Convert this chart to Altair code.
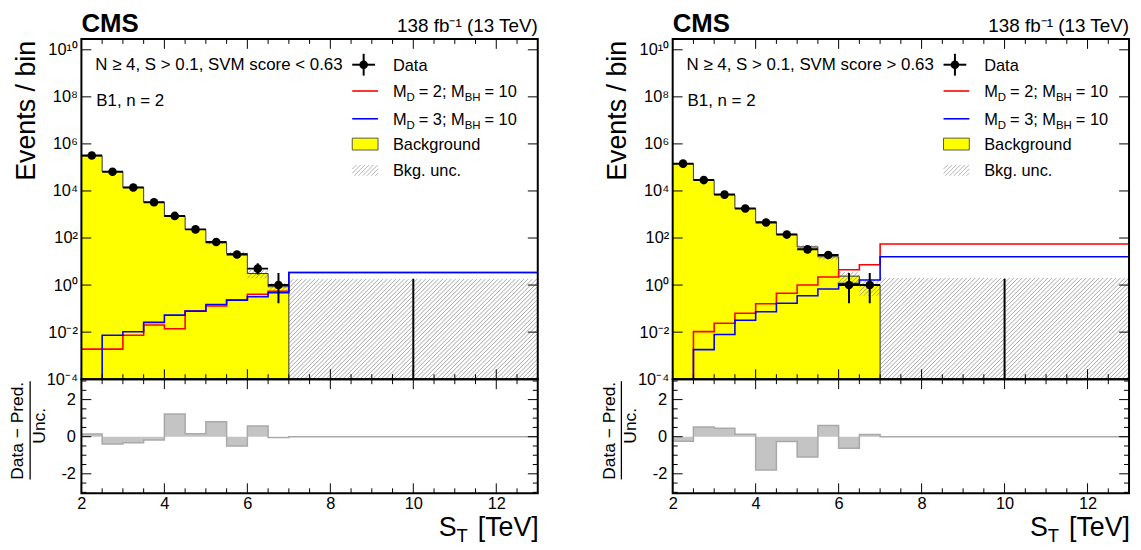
import math
import altair as alt
import pandas as pd

# ---------------- data ----------------
edges = [2.0, 2.5, 3.0, 3.5, 4.0, 4.5, 5.0, 5.5, 6.0, 6.5, 7.0, 13.0]

left_data = [3.2e5, 6.6e4, 1.4e4, 3.3e3, 870, 233, 68, 20, 5, 1, 0]
left_err_lo = [570, 260, 120, 57, 30, 15, 8, 4.4, 2.2, 0.83, 0]
left_err_hi = [570, 260, 120, 58, 30, 16, 9, 5.5, 3.4, 2.3, 1.84]
left_bkg = [3.1e5, 6.7e4, 1.42e4, 3.3e3, 830, 231, 62, 22, 3.1, 0.85, 0]
left_unc = [1500, 500, 180, 60, 25, 10, 8, 4, 1.2, 0.4, 1.8]
left_md2 = [1.9e-3, 1.9e-3, 7.4e-3, 0.020, 0.014, 0.078, 0.13, 0.23, 0.41, 0.55, 3.4]
left_md3 = [0, 7.4e-3, 0.0103, 0.026, 0.053, 0.078, 0.15, 0.23, 0.32, 0.47, 3.4]
left_pull = [0.14, -0.4, -0.32, -0.18, 1.22, 0.16, 0.8, -0.5, 0.58, -0.05, 0]

right_data = [1.45e5, 2.9e4, 7.0e3, 1.8e3, 455, 140, 33, 19, 1, 1, 0]
right_err_lo = [380, 170, 84, 42, 21, 12, 5.7, 4.3, 0.83, 0.83, 0]
right_err_hi = [380, 170, 84, 43, 22, 13, 6.8, 5.4, 2.3, 2.3, 1.84]
right_bkg = [1.46e5, 2.8e4, 6.9e3, 1.79e3, 490, 143, 42, 16, 2.4, 1.0, 0]
right_unc = [800, 250, 100, 40, 20, 10, 8, 4, 1.2, 0.65, 2.0]
right_md2 = [0, 0.0105, 0.024, 0.063, 0.16, 0.45, 1.0, 2.2, 4.5, 7.3, 56]
right_md3 = [0, 1.8e-3, 7.9e-3, 0.032, 0.074, 0.17, 0.35, 0.68, 1.17, 1.65, 16]
right_pull = [-0.25, 0.52, 0.45, 0.13, -1.79, -0.26, -1.1, 0.61, -0.62, 0.12, 0]

region_left = "N \u2265 4, S > 0.1, SVM score < 0.63"
region_right = "N \u2265 4, S > 0.1, SVM score > 0.63"
sub_label = "B1, n = 2"
cms_label = "CMS"
lumi_label = "138 fb\u207b\u00b9 (13 TeV)"
y_title = "Events / bin"
pull_num = "Data \u2212 Pred."
pull_den = "Unc."

x_major = [2, 4, 6, 8, 10, 12]
x_minor = [2.5, 3, 3.5, 4.5, 5, 5.5, 6.5, 7, 7.5, 8.5, 9, 9.5, 10.5, 11, 11.5, 12.5]
y_exps = [-4, -2, 0, 2, 4, 6, 8, 10]
pull_major = [-2, 0, 2]
pull_minor = [-3, -2.5, -1.5, -1, -0.5, 0.5, 1, 1.5, 2.5, 3]

# ---------------- layout / style ----------------
W = 460
H_UP = 343
H_LO = 115
X_DOM = [2, 13]
Y_DOM = [1e-4, 2.9e10]
P_DOM = [-3.05, 3.1]
FLOOR = 1e-7
FONT = "Liberation Sans"
RED = "#ff0000"
BLUE = "#0000ff"
YELLOW = "#ffff00"
HATCH = "#909090"

xs_scale = alt.Scale(domain=X_DOM, nice=False, zero=False)
ys_scale = alt.Scale(type="log", domain=Y_DOM, nice=False)
ps_scale = alt.Scale(domain=P_DOM, nice=False, zero=False)

SUP = str.maketrans("-0123456789", "\u207b\u2070\u00b9\u00b2\u00b3\u2074\u2075\u2076\u2077\u2078\u2079")


def sup_label(e):
    return "10" + str(e).translate(SUP)


label_expr = ""
for e in y_exps[:-1]:
    label_expr += f"datum.value < {10.0 ** (e + 1):g} ? '{sup_label(e)}' : "
label_expr += f"'{sup_label(y_exps[-1])}'"

ONE = pd.DataFrame({"a": [0]})


def X(field, lower):
    if lower:
        ax = alt.Axis(values=x_major, labelFlush=False, ticks=False, domain=False, grid=False,
                      labelPadding=2, labelFontSize=16.5, labelFont=FONT, labelColor="black",
                      labelOverlap=False, title=None)
    else:
        ax = None
    return alt.X(field, type="quantitative", scale=xs_scale, axis=ax, title=None)


def YU(field):
    ax = alt.Axis(values=[10.0 ** e for e in y_exps], labelExpr=label_expr, ticks=False,
                  domain=False, grid=False, labelPadding=4, labelFontSize=16.5, labelFont=FONT,
                  labelColor="black", labelOverlap=False, labelFlush=False, title=None)
    return alt.Y(field, type="quantitative", scale=ys_scale, axis=ax, title=None)


def YL(field):
    ax = alt.Axis(values=pull_major,
                  labelExpr="datum.value < 0 ? '-' + abs(datum.value) : '' + datum.value",
                  ticks=False, domain=False, grid=False, labelPadding=6, labelFontSize=16.5,
                  labelFont=FONT, labelColor="black", labelOverlap=False, labelFlush=False,
                  title=None)
    return alt.Y(field, type="quantitative", scale=ps_scale, axis=ax, title=None)


def txt(s, x, y, size, align="left", baseline="alphabetic", angle=0, bold=False):
    kw = dict(text=s, fontSize=size, font=FONT, align=align, baseline=baseline, color="black")
    if angle:
        kw["angle"] = angle
    if bold:
        kw["fontWeight"] = "bold"
    return alt.Chart(ONE).mark_text(**kw).encode(x=alt.value(x), y=alt.value(y))


AW = {"M": 833, "D": 722, "B": 667, "H": 722, "=": 584, "0": 556, "1": 556, "2": 556,
      "3": 556, ";": 278, " ": 278, "S": 667, "T": 611, "[": 278, "]": 278,
      "e": 556, "V": 667}


def tw(s, fs):
    return sum(AW.get(ch, 556) for ch in s) * fs / 1000.0


def run(pieces, x0, yb):
    """pieces: (text, fontsize, baseline shift, gap after)"""
    out = []
    x = x0
    for s, fs, d, gap in pieces:
        out.append(txt(s, x, yb + d, fs))
        x += tw(s, fs) + gap
    return out


def run_right(pieces, xr, yb):
    """right-to-left layout, each piece right aligned"""
    out = []
    x = xr
    for s, fs, d, gap in reversed(pieces):
        x -= gap
        out.append(txt(s, x, yb + d, fs, align="right"))
        x -= tw(s, fs)
    return out


LMIN, LMAX = math.log10(Y_DOM[0]), math.log10(Y_DOM[1])


def px_x(x):
    return (x - X_DOM[0]) / (X_DOM[1] - X_DOM[0]) * W


def px_y(y):
    return (LMAX - math.log10(y)) / (LMAX - LMIN) * H_UP


def d_x(px):
    return X_DOM[0] + px / W * (X_DOM[1] - X_DOM[0])


def d_y(py):
    return 10 ** (LMAX - py / H_UP * (LMAX - LMIN))


def hatch(rects, sp=4.3):
    rows = []
    for (a, b, t, btm) in rects:
        if btm - t < 0.6:
            continue
        kmin = math.ceil((a + t) / sp)
        kmax = math.floor((b + btm) / sp)
        for k in range(kmin, kmax + 1):
            c = k * sp
            pa = max(a, c - btm)
            pb = min(b, c - t)
            if pb - pa > 0.3:
                rows.append({"x": d_x(pa), "y": d_y(c - pa), "x2": d_x(pb), "y2": d_y(c - pb)})
    return pd.DataFrame(rows)


def ticks_x(values, length, H, lower):
    df = pd.DataFrame({"t": values})
    b = alt.Chart(df).mark_rule(color="black", strokeWidth=1).encode(
        x=X("t", lower), y=alt.value(H), y2=alt.value(H - length))
    t = alt.Chart(df).mark_rule(color="black", strokeWidth=1).encode(
        x=X("t", lower), y=alt.value(0), y2=alt.value(length))
    return [b, t]


def ticks_y(values, length, yenc):
    df = pd.DataFrame({"t": values})
    l = alt.Chart(df).mark_rule(color="black", strokeWidth=1).encode(
        y=yenc("t"), x=alt.value(0), x2=alt.value(length))
    r = alt.Chart(df).mark_rule(color="black", strokeWidth=1).encode(
        y=yenc("t"), x=alt.value(W), x2=alt.value(W - length))
    return [l, r]


def frame(H):
    return alt.Chart(ONE).mark_rect(fillOpacity=0, stroke="black", strokeWidth=2).encode(
        x=alt.value(0), x2=alt.value(W), y=alt.value(0), y2=alt.value(H))


def step_df(vals):
    ys = [max(v, FLOOR) for v in vals] + [max(vals[-1], FLOOR)]
    return pd.DataFrame({"x": edges, "y": ys, "base": [FLOOR] * len(edges)})


def upper_panel(data, elo, ehi, bkg, unc, md2, md3, region):
    lo = edges[:-1]
    hi = edges[1:]
    cen = [(a + b) / 2 for a, b in zip(lo, hi)]
    bins = pd.DataFrame({"lo": lo, "hi": hi, "c": cen, "data": data, "bkg": bkg})
    bins["elo"] = [max(d - e, FLOOR) for d, e in zip(data, elo)]
    bins["ehi"] = [d + e for d, e in zip(data, ehi)]
    pos = bins[bins["data"] > 0]

    rects = []
    for a, b, v, u in zip(lo, hi, bkg, unc):
        top = px_y(v + u)
        btm = min(px_y(max(v - u, FLOOR)), H_UP)
        rects.append((px_x(a), px_x(b), top, btm))
    hd = hatch(rects)

    layers = []
    layers.append(alt.Chart(step_df(bkg)).mark_area(
        interpolate="step-after", color=YELLOW, opacity=1, clip=True).encode(
        x=X("x", False), y=YU("y"), y2="base"))
    layers.append(alt.Chart(hd).mark_rule(color=HATCH, strokeWidth=0.8, clip=True).encode(
        x=X("x", False), x2="x2", y=YU("y"), y2="y2"))
    layers.append(alt.Chart(step_df(bkg)).mark_line(
        interpolate="step-after", color="#333333", strokeWidth=1, clip=True).encode(
        x=X("x", False), y=YU("y")))
    layers.append(alt.Chart(step_df(md2)).mark_line(
        interpolate="step-after", color=RED, strokeWidth=1.6, clip=True).encode(
        x=X("x", False), y=YU("y")))
    layers.append(alt.Chart(step_df(md3)).mark_line(
        interpolate="step-after", color=BLUE, strokeWidth=1.6, clip=True).encode(
        x=X("x", False), y=YU("y")))
    layers.append(alt.Chart(pos).mark_rule(color="black", strokeWidth=2, clip=True).encode(
        x=X("lo", False), x2="hi", y=YU("data")))
    layers.append(alt.Chart(bins).mark_rule(color="black", strokeWidth=2, clip=True).encode(
        x=X("c", False), y=YU("elo"), y2="ehi"))
    layers.append(alt.Chart(pos).mark_circle(color="black", size=75, opacity=1, clip=True).encode(
        x=X("c", False), y=YU("data")))

    layers += ticks_x(x_major, 10, H_UP, False)
    layers += ticks_x(x_minor, 5, H_UP, False)
    layers += ticks_y([10.0 ** e for e in y_exps], 10, YU)
    layers.append(frame(H_UP))

    # texts
    layers.append(txt(cms_label, 0, -7, 26, bold=True))
    layers.append(txt(lumi_label, W, -7, 19, align="right"))
    layers.append(txt(region, 14, 31.5, 17))
    layers.append(txt(sub_label, 15, 68, 17))
    layers.append(txt(y_title, -47, 2, 27, align="right", angle=270))

    # legend
    lx0, lx1, lxc, tx = 273, 299, 284.5, 314
    layers.append(alt.Chart(ONE).mark_rule(color="black", strokeWidth=2).encode(
        x=alt.value(lx0), x2=alt.value(296), y=alt.value(26)))
    layers.append(alt.Chart(ONE).mark_rule(color="black", strokeWidth=2).encode(
        x=alt.value(lxc), y=alt.value(15), y2=alt.value(37)))
    layers.append(alt.Chart(ONE).mark_circle(color="black", size=75, opacity=1).encode(
        x=alt.value(lxc), y=alt.value(26)))
    layers.append(alt.Chart(ONE).mark_rule(color=RED, strokeWidth=1.6).encode(
        x=alt.value(lx0), x2=alt.value(lx1), y=alt.value(52.5)))
    layers.append(alt.Chart(ONE).mark_rule(color=BLUE, strokeWidth=1.6).encode(
        x=alt.value(lx0), x2=alt.value(lx1), y=alt.value(80.5)))
    layers.append(alt.Chart(ONE).mark_rect(color=YELLOW, stroke="#333333", strokeWidth=0.8).encode(
        x=alt.value(lx0), x2=alt.value(lx1), y=alt.value(100), y2=alt.value(112)))
    layers.append(alt.Chart(hatch([(lx0, lx1, 127, 138)])).mark_rule(
        color="#a0a0a0", strokeWidth=0.8).encode(
        x=X("x", False), x2="x2", y=YU("y"), y2="y2"))
    layers.append(txt("Data", tx, 32, 16.5))
    layers += run([("M", 16.5, 0, 0), ("D", 11.5, 4, 4), ("= 2; M", 16.5, 0, 0),
                   ("BH", 11.5, 4, 4), ("= 10", 16.5, 0, 0)], tx, 59)
    layers += run([("M", 16.5, 0, 0), ("D", 11.5, 4, 4), ("= 3; M", 16.5, 0, 0),
                   ("BH", 11.5, 4, 4), ("= 10", 16.5, 0, 0)], tx, 87)
    layers.append(txt("Background", tx, 111.5, 16.5))
    layers.append(txt("Bkg. unc.", tx, 138, 16.5))

    return alt.layer(*layers).properties(width=W, height=H_UP)


def lower_panel(pull):
    sdf = pd.DataFrame({"x": edges, "y": list(pull) + [pull[-1]], "zero": [0] * len(edges)})
    layers = []
    layers.append(alt.Chart(sdf).mark_area(interpolate="step-after", color="#c4c4c4",
                                           opacity=1).encode(
        x=X("x", True), y=YL("y"), y2="zero"))
    layers.append(alt.Chart(sdf).mark_line(interpolate="step-after", color="#a9a9a9",
                                           strokeWidth=1.5).encode(
        x=X("x", True), y=YL("y")))
    layers += ticks_x(x_major, 10, H_LO, True)
    layers += ticks_x(x_minor, 5, H_LO, True)
    layers += ticks_y(pull_major, 10, YL)
    layers += ticks_y(pull_minor, 5, YL)
    layers.append(frame(H_LO))
    # y title as a fraction
    layers.append(txt(pull_num, -63.5, 52, 17.5, align="center", baseline="middle", angle=270))
    layers.append(txt(pull_den, -42, 47, 17.5, align="center", baseline="middle", angle=270))
    layers.append(alt.Chart(ONE).mark_rule(color="black", strokeWidth=1.3).encode(
        x=alt.value(-51.7), y=alt.value(2), y2=alt.value(101)))
    # x title  S_T [TeV]
    pieces = [("S", 27, 0, 0), ("T", 18.5, 6, 7), ("[TeV]", 27, 0, 0)]
    layers += run_right(pieces, W + 1, 158)
    return alt.layer(*layers).properties(width=W, height=H_LO)


left = alt.vconcat(
    upper_panel(left_data, left_err_lo, left_err_hi, left_bkg, left_unc, left_md2, left_md3,
                region_left),
    lower_panel(left_pull), spacing=0, bounds="flush")
right = alt.vconcat(
    upper_panel(right_data, right_err_lo, right_err_hi, right_bkg, right_unc, right_md2,
                right_md3, region_right),
    lower_panel(right_pull), spacing=0, bounds="flush")

chart = alt.hconcat(left, right, spacing=58).properties(
    padding=0, background="white"
).configure_view(stroke="transparent")

chart.save("out.html", embed_options={"renderer": "svg", "actions": False})
